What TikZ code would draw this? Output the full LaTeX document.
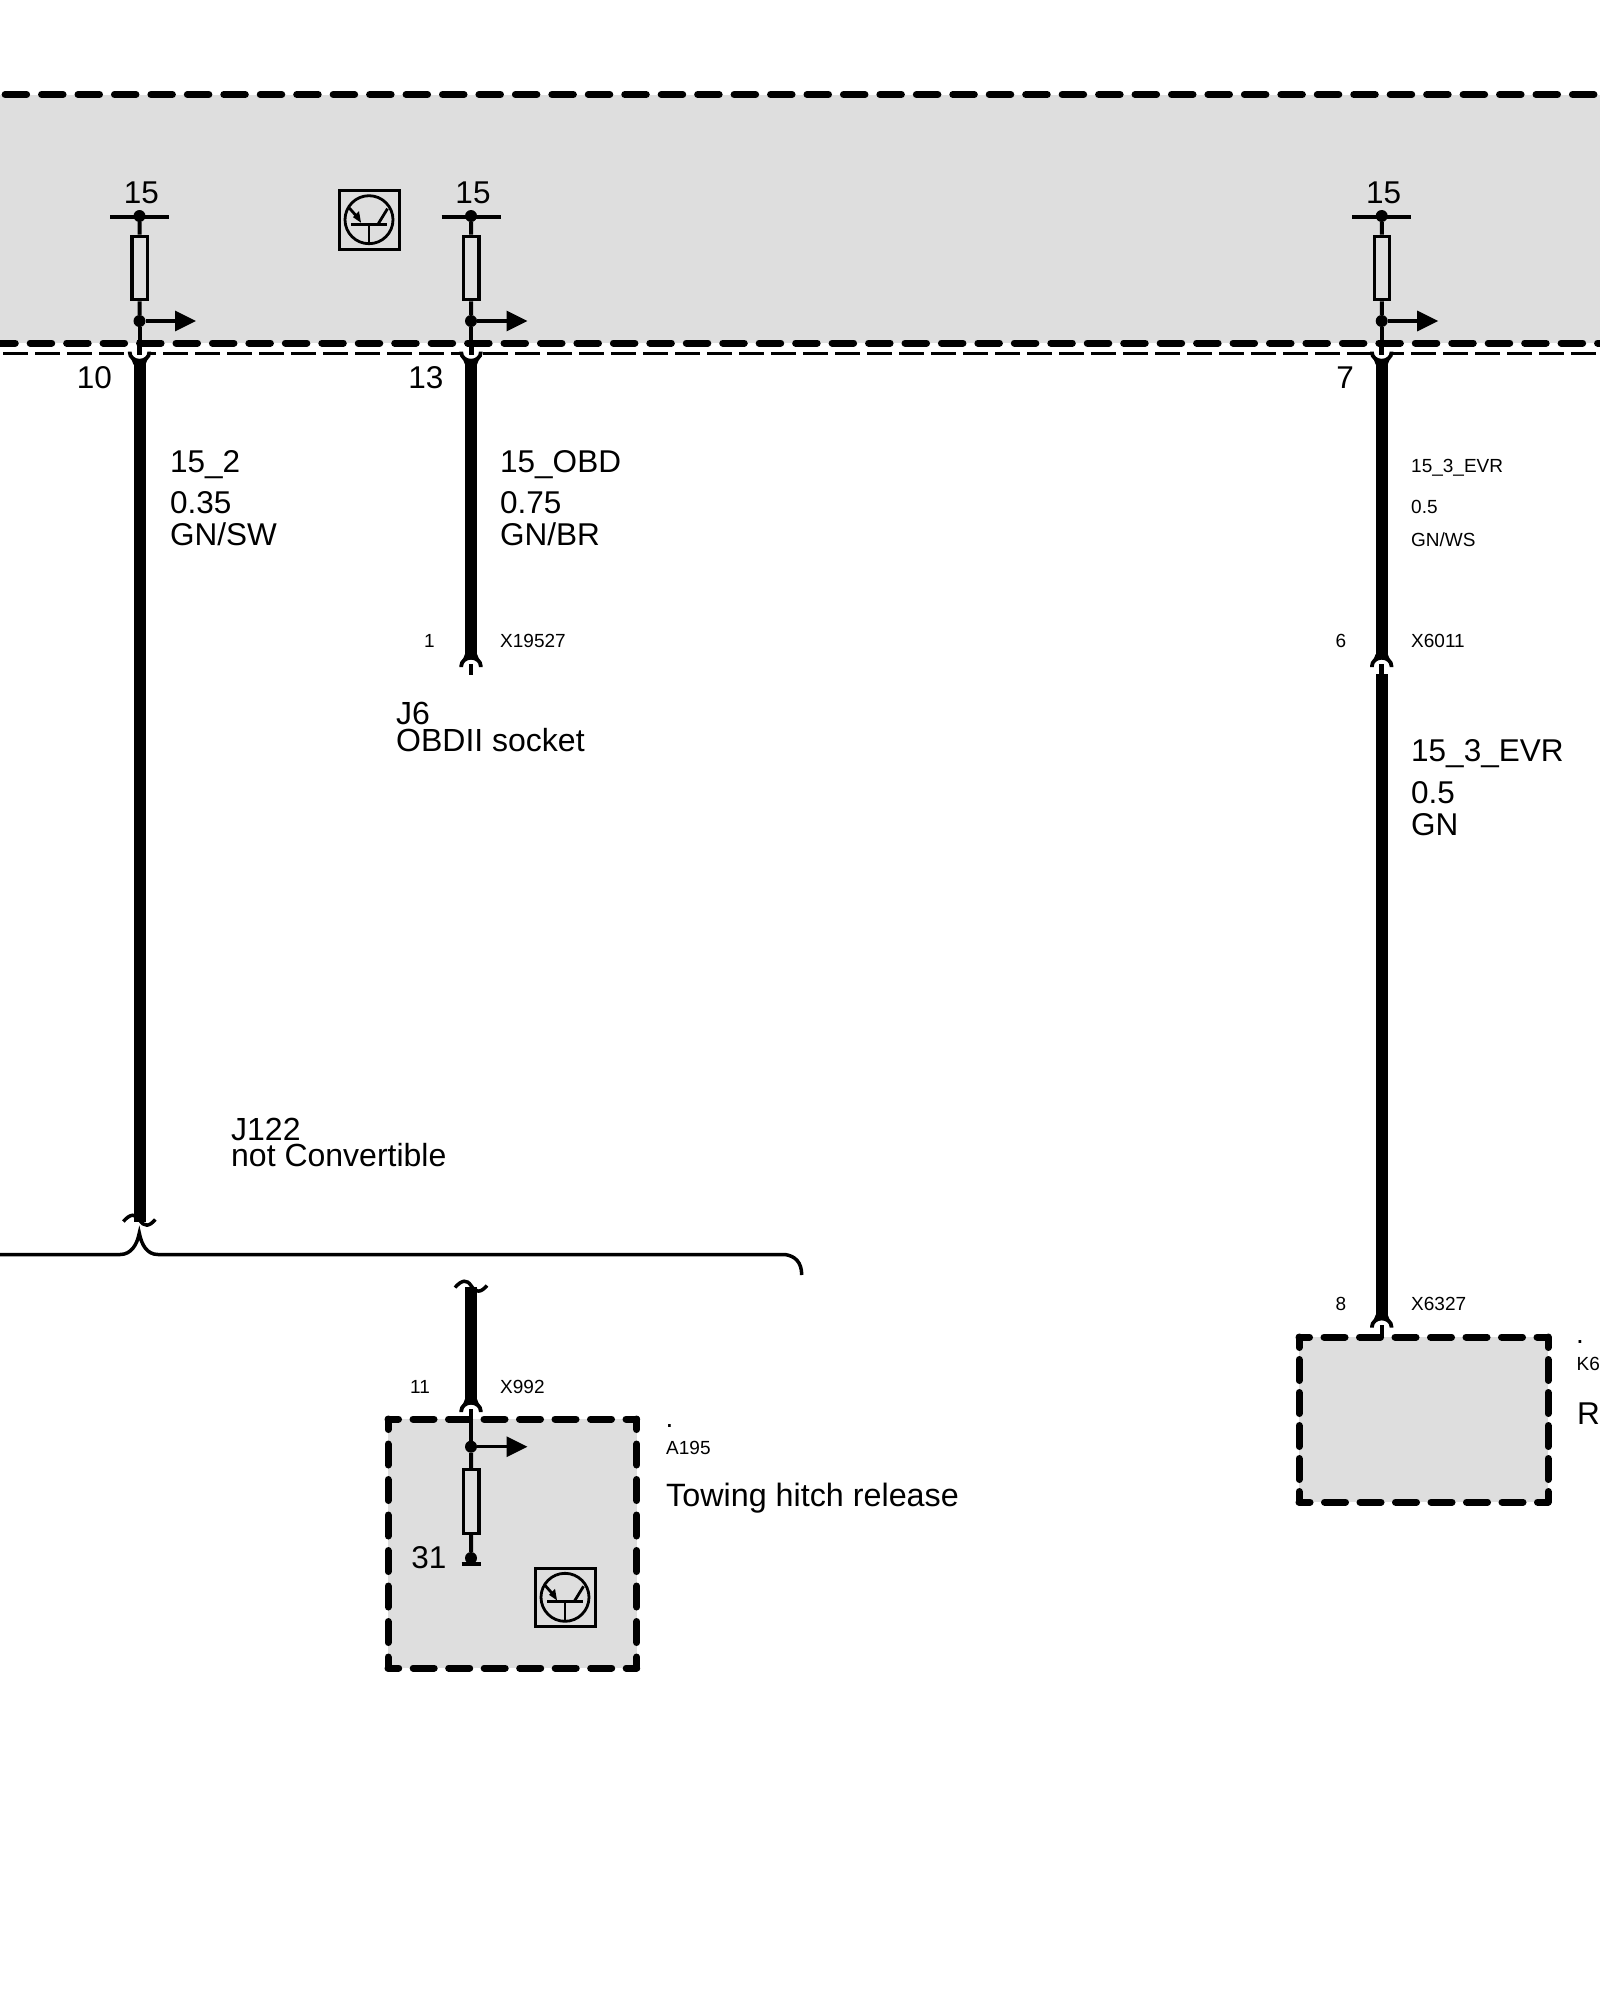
\documentclass[tikz,border=0pt]{standalone}
\usepackage{fontspec}
\setmainfont{Liberation Sans}
\usetikzlibrary{arrows.meta}
\definecolor{panel}{HTML}{DEDEDE}
\newcommand{\bigtxt}{\fontsize{31.5}{31.5}\selectfont}
\newcommand{\smalltxt}{\fontsize{19}{19}\selectfont}
\tikzset{
  big/.style={inner sep=0pt,font=\bigtxt,anchor=base west},
  bigc/.style={inner sep=0pt,font=\bigtxt,anchor=base},
  tiny/.style={inner sep=0pt,font=\smalltxt,anchor=base west},
  tinyc/.style={inner sep=0pt,font=\smalltxt,anchor=base},
  mark dot/.style={inner sep=0pt,font=\fontsize{28}{28}\selectfont,anchor=base west},
  dotnode/.style={circle,fill=black,inner sep=0pt,minimum size=12pt},
  fuse/.style={draw=black,fill=panel,line width=3.2pt,minimum width=15.5pt,minimum height=63.5pt,inner sep=0pt},
  thin wire/.style={line width=4pt},
  rail/.style={line width=3.2pt},
  thick wire/.style={line width=12pt},
  tap/.style={line width=3.2pt,-{Triangle[length=21pt,width=20pt]}},
  heavy dash/.style={line width=7pt,line cap=round,dash pattern=on 21.5pt off 14.95pt},
  thin dash/.style={line width=3pt,dash pattern=on 25pt off 7pt},
  side a/.style={line width=7pt,line cap=round,dash pattern=on 21pt off 14.5pt,dash phase=10.5pt},
  side b/.style={line width=7pt,line cap=round,dash pattern=on 21pt off 12pt,dash phase=10.5pt},
  archpin/.pic={
    \fill[black] (-6,-12) -- (-8,-7) -- (8,-7) -- (6,-12) -- cycle;
    \fill[white] (-9.75,1) -- (-9.75,0) .. controls (-9.75,-4.5) and (-5.4,-8.25) .. (0,-8.25) .. controls (5.4,-8.25) and (9.75,-4.5) .. (9.75,0) -- (9.75,1) -- cycle;
    \draw[line width=3.8pt] (-9.75,1) -- (-9.75,0) .. controls (-9.75,-4.5) and (-5.4,-8.25) .. (0,-8.25) .. controls (5.4,-8.25) and (9.75,-4.5) .. (9.75,0) -- (9.75,1);
  },
  wavemark/.pic={
    \draw[line width=3.5pt] (-16,0) .. controls (-9,-8) and (-4,-8) .. (0,-2) .. controls (5,6) and (10,5) .. (16,-2);
  },
  transistor/.pic={
    \draw[line width=3pt] (-30,-29) rectangle (30,29.5);
    \draw[line width=2.8pt] (0,0) circle[radius=24pt];
    \draw[line width=2.8pt] (-18,4.5) -- (18,4.5);
    \draw[line width=2.8pt] (0,4.5) -- (0,24);
    \draw[line width=2.8pt] (9,4.5) -- (18.5,-11);
    \draw[line width=2.8pt] (-20,-12) -- (-12,-3);
    \fill (-8,3) -- (-16,-2.5) -- (-10,-8.5) -- cycle;
  }
}
% name, x : the feed with its terminal, fuse, tap and pin
\newcommand{\feedstub}[2]{%
  \node[bigc] (#1term) at (#2+2,203) {15};
  \coordinate (#1l) at (#2-29.5,217);
  \coordinate (#1r) at (#2+29.5,217);
  \draw[rail] (#1l) -- (#1r);
  \node[fuse] (#1fuse) at (#2+0.3,268) {};
  \node[dotnode] (#1top) at (#2,216) {};
  \node[dotnode] (#1tap) at (#2,321) {};
  \coordinate (#1tip) at (#2+56.5,321);
  \coordinate (#1pin) at (#2,355);
  \coordinate (#1cup) at (#2,352.5);
  \coordinate (#1start) at (#2,360.5);
  \draw[thin wire] (#1top) -- (#1fuse);
  \draw[thin wire] (#1fuse) -- (#1tap);
  \draw[tap] (#1tap) -- (#1tip);
  \pic[yscale=-1] at (#1cup) {archpin};
  \draw[line width=5pt] (#2,340) -- (#1pin);
  \draw[thin wire] (#1tap) -- (#1pin);
}
% x1 y1 x2 y2, styles for horizontal and vertical sides
\newcommand{\dashedbox}[6]{%
  \draw[#5] (#1,#2) -- (#3,#2);
  \draw[#5] (#3,#4) -- (#1,#4);
  \draw[#6] (#1,#2) -- (#1,#4);
  \draw[#6] (#3,#2) -- (#3,#4);
}
\begin{document}
\begin{tikzpicture}[x=1pt,y=-1pt]
\useasboundingbox (0,0) rectangle (1600,2000);
\clip (0,0) rectangle (1600,2000);
\fill[white] (0,0) rectangle (1600,2000);

% panel
\fill[panel] (0,94.5) rectangle (1600,343);
\draw[heavy dash] (-31.35,94.5) -- (1640,94.5);
\draw[heavy dash] (-42.7,343) -- (1640,343);
\draw[thin dash] (-28.7,353.3) -- (1640,353.3);

% feeds
\feedstub{a}{139.5}
\feedstub{b}{471}
\feedstub{c}{1381.7}

\pic at (369,219.7) {transistor};

% pin labels
\node[bigc] (n10) at (94.5,388) {10};
\node[bigc] (n13) at (426,388) {13};
\node[bigc] (n7) at (1345,388) {7};

% wire a
\coordinate (aend) at (139.5,1222);
\draw[thick wire] (astart) -- (aend);
\pic at (139.3,1221.5) {wavemark};
\node[big] (a1) at (170,472) {15\_2};
\node[big] (a2) at (170,513) {0.35};
\node[big] (a3) at (170,545) {GN/SW};

% wire b
\coordinate (bend) at (471,658);
\coordinate (barch) at (471,666);
\coordinate (bpin) at (471,675);
\draw[thick wire] (bstart) -- (bend);
\pic at (barch) {archpin};
\draw[line width=4.5pt] (471,664) -- (bpin);
\node[big] (b1) at (500,472) {15\_OBD};
\node[big] (b2) at (500,513) {0.75};
\node[big] (b3) at (500,545) {GN/BR};
\node[tiny] (bx) at (500,647.5) {X19527};
\node[tinyc] (bn) at (429.5,647.5) {1};
\node[big,font=\fontsize{32}{32}\selectfont] (j6a) at (396,724.5) {J6};
\node[big,font=\fontsize{32}{32}\selectfont] (j6b) at (396,751.5) {OBDII socket};

% wire c
\coordinate (cend) at (1381.7,658);
\coordinate (carch) at (1381.7,666);
\coordinate (cpin) at (1381.7,674);
\coordinate (cnext) at (1381.7,1318);
\draw[thick wire] (cstart) -- (cend);
\pic at (carch) {archpin};
\draw[line width=4.5pt] (1381.7,664) -- (cpin);
\draw[thick wire] (cpin) -- (cnext);
\node[tiny] (c1) at (1411,472) {15\_3\_EVR};
\node[tiny] (c2) at (1411,513.5) {0.5};
\node[tiny] (c3) at (1411,546.5) {GN/WS};
\node[tiny] (cx) at (1411,647.5) {X6011};
\node[tinyc] (cn) at (1341,647.5) {6};
\node[big] (c4) at (1411,761) {15\_3\_EVR};
\node[big] (c5) at (1411,803) {0.5};
\node[big] (c6) at (1411,835) {GN};

% bracket
\node[big,font=\fontsize{32}{32}\selectfont] (j122a) at (231,1140) {J122};
\node[big,font=\fontsize{32}{32}\selectfont] (j122b) at (231,1166.5) {not Convertible};
\coordinate (brl) at (0,1254.5);
\coordinate (brp) at (139.3,1233);
\coordinate (brr) at (785,1254.5);
\coordinate (bre) at (801.7,1275);
\draw[line width=3.5pt] (brl) -- (120,1254.5) .. controls (131,1254.5) and (137,1245) .. (brp)
   .. controls (141.6,1245) and (147,1254.5) .. (158,1254.5) -- (brr) .. controls (795,1256) and (801.7,1262) .. (bre);

% towing box
\node[fill=panel,inner sep=0pt,minimum width=248.7pt,minimum height=249pt] (abox) at (512.35,1543.5) {};
\dashedbox{388}{1419}{636.7}{1668}{side a}{side a}
\coordinate (dtop) at (471,1287);
\coordinate (dend) at (471,1403);
\coordinate (darch) at (471,1411);
\coordinate (dpin) at (471,1409);
\draw[thick wire] (dtop) -- (dend);
\pic at (471,1287.5) {wavemark};
\pic at (darch) {archpin};
\node[dotnode] (dtap) at (471,1446.7) {};
\coordinate (dtip) at (527.5,1446.7);
\node[fuse] (dfuse) at (471.3,1501.5) {};
\node[dotnode] (dgnd) at (471,1558) {};
\coordinate (gl) at (461.5,1564);
\coordinate (gr) at (481,1564);
\draw[line width=4pt] (dpin) -- (dtap);
\draw[tap] (dtap) -- (dtip);
\draw[thin wire] (dtap) -- (dfuse);
\draw[thin wire] (dfuse) -- (dgnd);
\draw[rail] (gl) -- (gr);
\node[bigc] (n31) at (429,1568.5) {31};
\pic at (565,1597.3) {transistor};
\node[tinyc] (n11) at (420,1393.5) {11};
\node[tiny] (x992) at (500,1393.5) {X992};
\node[mark dot] (adot) at (665.5,1427) {.};
\node[tiny] (a195) at (666,1454) {A195};
\node[big,font=\fontsize{32.3}{32.3}\selectfont] (tow) at (666,1506) {Towing hitch release};

% K box
\node[fill=panel,inner sep=0pt,minimum width=249pt,minimum height=165pt] (kbox) at (1423.5,1419.5) {};
\dashedbox{1299}{1337}{1548}{1502}{side a}{side b}
\pic at (1381.7,1326.7) {archpin};
\coordinate (kp) at (1381.7,1337);
\coordinate (kq) at (1381.7,1325);
\draw[line width=4pt] (kq) -- (kp);
\node[tinyc] (n8) at (1341,1310) {8};
\node[tiny] (x6327) at (1411,1310) {X6327};
\node[mark dot] (kdot) at (1576,1343) {.};
\node[tiny] (k6) at (1576.5,1370.5) {K6};
\node[big] (rr) at (1577,1424) {R};
\end{tikzpicture}
\end{document}
